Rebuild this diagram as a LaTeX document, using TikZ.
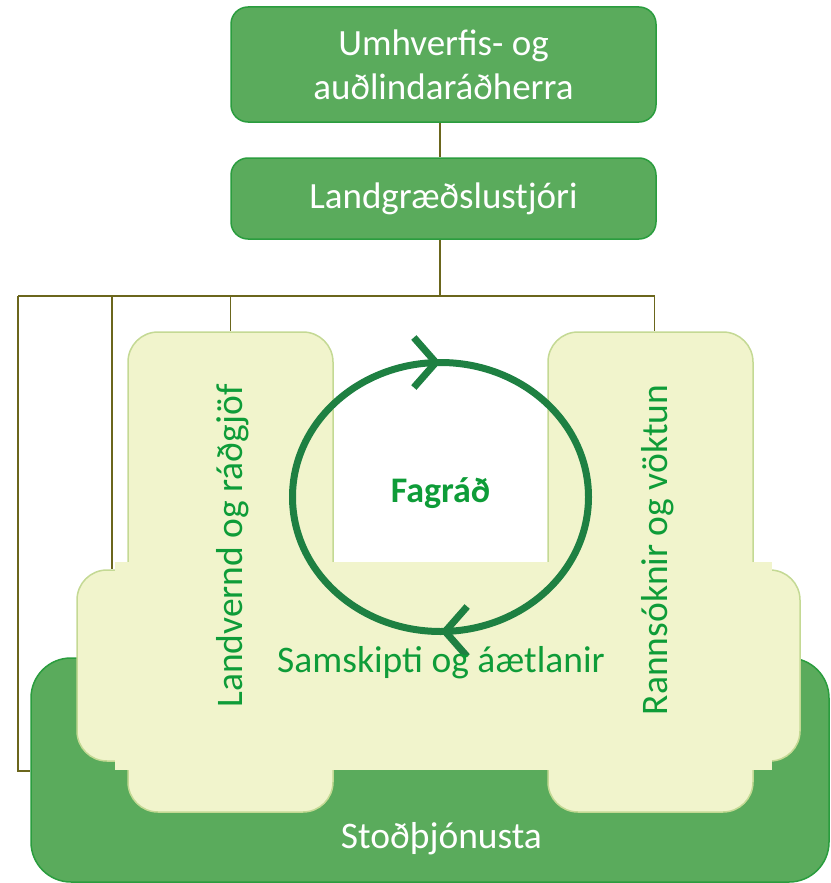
\documentclass[tikz,border=0pt]{standalone}
\usepackage{fontspec}
\setmainfont{Carlito}
\usetikzlibrary{arrows.meta,decorations.markings}
\definecolor{boxgreen}{HTML}{5AAB5C}
\definecolor{boxedge}{HTML}{2A9D3E}
\definecolor{palefill}{HTML}{F1F4CC}
\definecolor{paleedge}{HTML}{C4D994}
\definecolor{textgreen}{HTML}{0E9C38}
\definecolor{ringgreen}{HTML}{1E8042}
\definecolor{linkcol}{HTML}{6B661C}
\tikzstyle{box}=[draw=boxedge,fill=boxgreen,line width=1.5pt,rounded corners=17pt,text=white,font=\fontsize{37}{44}\selectfont,align=center,inner sep=0]
\tikzstyle{pale}=[draw=paleedge,fill=palefill,line width=1.5pt,rounded corners=30pt,inner sep=0]
\tikzstyle{link}=[draw=linkcol,line width=1.6pt]
\tikzstyle{lbl}=[text=textgreen,font=\fontsize{37.5}{40}\selectfont,inner sep=0]
\tikzstyle{ring}=[draw=ringgreen,line width=7pt,postaction={decorate},decoration={markings,
  mark=at position 0.25 with {\arrow{Straight Barb[length=22pt,width=50pt,line width=7pt]}},
  mark=at position 0.75 with {\arrow{Straight Barb[length=22pt,width=50pt,line width=7pt]}}}]

\begin{document}
\begin{tikzpicture}[x=1pt,y=-1pt]
  \useasboundingbox (0,0) rectangle (830,883);

  \node[box, minimum width=425pt, minimum height=115pt] (minister) at (443.5,64.5) {Umhverfis- og\\auðlindaráðherra};
  \node[box, minimum width=425pt, minimum height=81pt] (director) at (443.5,198.5) {Landgræðslustjóri};

  \node[box, rounded corners=40pt, minimum width=798pt, minimum height=224pt] (support) at (430,770) {};

  \coordinate (hub) at (440,296);
  \coordinate (dropA) at (18,296);
  \coordinate (dropB) at (112,296);

  \node[pale, minimum width=205pt, minimum height=480pt] (landv) at (230.5,572) {};
  \node[pale, minimum width=205pt, minimum height=480pt] (rann) at (650.5,572) {};
  \node[pale, minimum width=723pt, minimum height=191pt] (cross) at (438.5,665.5) {};
  \fill[palefill] (115,562) rectangle (772,770);

  \draw[link]
    (minister.south -| hub) -- (director.north -| hub)
    (director.south -| hub) -- (hub)
    (dropA) -- ([xshift=4pt]rann.north |- hub)
    (dropA) |- (support.west |- 0,771)
    (dropB) -- (dropB |- cross.north)
    (landv.north |- hub) -- (landv.north)
    ([xshift=4pt]rann.north |- hub) -- ([xshift=4pt]rann.north)
    ;

  \draw[ring] (440.5,497) ellipse [x radius=148, y radius=134.5];

  \node[lbl, font=\bfseries\fontsize{36}{40}\selectfont, anchor=base] (fagrad) at (440.5,502) {Fagráð};
  \node[lbl, anchor=base] (samsk) at (441,672) {Samskipti og áætlanir};
  \node[lbl, rotate=90, anchor=base] (landvtext) at (242,546) {Landvernd og ráðgjöf};
  \node[lbl, rotate=90, anchor=base] (ranntext) at (667,550) {Rannsóknir og vöktun};
  \node[lbl, text=white, anchor=base] (supporttext) at (441.5,848) {Stoðþjónusta};
\end{tikzpicture}
\end{document}
